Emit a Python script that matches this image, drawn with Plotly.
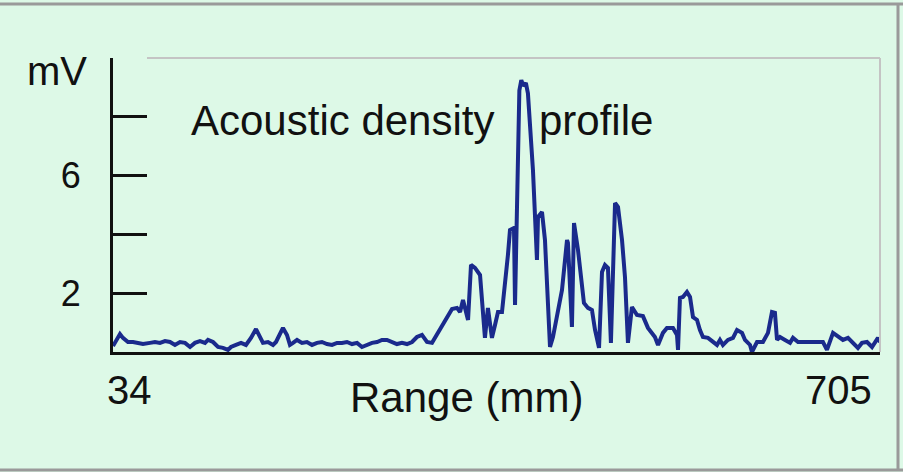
import plotly.graph_objects as go

# ---- data (Range in mm, signal in mV) ----
range_mm = [34, 40.1, 42.7, 47.1, 51.5, 55.9, 60.2, 66.4, 70.7, 75.1, 79.5, 83.9, 88.2, 92.6, 97.0,
            101.4, 105.7, 110.1, 114.5, 117.1, 121.5, 125.9, 130.2, 134.6, 137.2, 141.6, 146.0, 150.3,
            154.7, 159.1, 162.6, 165.2, 169.6, 174.0, 176.6, 180.1, 182.7, 186.2, 188.8, 191.5, 195.0,
            199.3, 203.7, 208.1, 212.5, 216.8, 221.2, 225.6, 230.0, 234.3, 238.7, 243.1, 247.5, 251.8,
            256.2, 260.6, 265.0, 269.3, 273.7, 278.1, 282.4, 286.8, 291.2, 295.6, 299.9, 304.3, 308.7,
            313.1, 317.4, 320.1, 321.8, 326.2, 330.6, 334.9, 337.6, 340.2, 342.8, 344.6, 347.2, 350.7,
            355.1, 357.7, 359.4, 362.0, 365.5, 368.2, 370.8, 374.3, 376.9, 379.5, 381.3, 384.8, 385.7,
            389.5, 391.2, 393.0, 395.2, 397.0, 401.4, 404.9, 405.8, 409.3, 411.9, 416.3, 418.9, 422.4,
            426.8, 431.2,
            432.0, 435.5, 437.3, 440.8, 444.3, 446.0, 449.5, 453.0, 455.7, 459.2, 461.8, 464.4, 467.0,
            469.6, 473.2, 475.8, 479.3, 481.9, 484.5, 488.0, 492.4, 497.6, 502.0, 505.5, 508.1, 510.8,
            515.1, 518.6, 523.9, 527.4, 528.3, 530.0, 532.6, 536.1, 538.8, 541.4, 544.9, 547.5, 550.1,
            554.5, 558.9, 562.4, 565.0, 567.6, 572.0, 576.4, 579.9, 584.3, 586.9, 591.3, 593.0, 597.4,
            602.6, 607.0, 610.5, 613.1, 614.9, 617.5, 621.9, 626.3, 628.9, 633.3, 655.1, 658.6, 663.9,
            668.2, 672.6, 677.0, 681.4, 685.7, 689.2, 693.6, 698.0, 700.6, 703.2, 705.0]
signal_mv = [0.20, 0.61, 0.48, 0.34, 0.34, 0.31, 0.27, 0.31, 0.34, 0.31, 0.37, 0.34, 0.24, 0.34, 0.31,
             0.17, 0.31, 0.37, 0.31, 0.41, 0.34, 0.17, 0.14, 0.07, 0.17, 0.24, 0.31, 0.24,
             0.48, 0.78, 0.51, 0.31, 0.34, 0.24, 0.34, 0.65, 0.82, 0.58, 0.24, 0.31, 0.41,
             0.31, 0.34, 0.24, 0.31, 0.34, 0.27, 0.24, 0.31, 0.31, 0.34, 0.27, 0.31, 0.17,
             0.24, 0.31, 0.34, 0.41, 0.41, 0.34, 0.27, 0.31, 0.27, 0.34, 0.51, 0.58, 0.34,
             0.31, 0.58, 0.75, 0.92, 1.16, 1.46, 1.50, 1.36, 1.77, 1.43, 1.09, 2.96, 2.86,
             2.62, 1.19, 0.48, 1.50, 0.48, 0.92, 1.36, 1.36, 2.28, 3.30, 4.15, 4.22, 1.60,
             8.90, 9.25, 9.05, 9.15, 8.80, 6.19, 3.13, 4.59, 4.76, 3.81, 0.17, 0.51, 1.19,
             2.11, 3.81,
             3.71, 0.85, 4.39, 3.47, 2.11, 1.67, 1.50, 1.43, 0.75, 0.14, 2.72, 2.96, 2.86,
             0.31, 5.07, 4.93, 3.81, 2.55, 0.31, 1.53, 1.26, 1.22, 0.82, 0.65, 0.51, 0.24,
             0.65, 0.82, 0.82, 0.58, 0.07, 1.84, 1.87, 2.04, 1.87, 1.19, 1.09, 0.75, 0.51,
             0.48, 0.34, 0.24, 0.41, 0.24, 0.41, 0.48, 0.75, 0.65, 0.41, 0.24, 0.00, 0.34,
             0.34, 0.65, 1.36, 1.33, 0.41, 0.51, 0.41, 0.31, 0.48, 0.34, 0.34, 0.07, 0.65,
             0.51, 0.41, 0.48, 0.31, 0.14, 0.31, 0.34, 0.17, 0.34, 0.48, 0.34]

y_tick_vals = [0, 2, 4, 6, 8, 10]
y_tick_text = ["", "2", "", "6", "", ""]
y_unit_label = "mV"
x_range = [34, 705]
x_end_labels = ["34", "705"]
x_title = "Range (mm)"
chart_title_parts = ["Acoustic density", "profile"]

# ---- layout geometry (pixels) ----
W, H = 903, 472
L, R, T, B = 113, 880, 58, 352
pw, ph = R - L, B - T


def px(x):
    return (x - L) / pw


def py(y):
    return (B - y) / ph


BG = "#ddf9e7"
FONT = "Liberation Sans, Arial, Helvetica, sans-serif"
LINE = "#1a2a8c"

fig = go.Figure()
fig.add_trace(go.Scatter(x=range_mm, y=signal_mv, mode="lines",
                         line=dict(color=LINE, width=4), hoverinfo="skip",
                         showlegend=False))

fig.update_layout(
    width=W, height=H,
    margin=dict(l=L, r=W - R, t=T, b=H - B, pad=0),
    paper_bgcolor=BG, plot_bgcolor=BG,
    font=dict(family=FONT, color="#111111"),
    xaxis=dict(range=x_range, showgrid=False, zeroline=False, showticklabels=False,
               ticks="", showline=True, linecolor="#111111", linewidth=3),
    yaxis=dict(range=[0, 10], showgrid=False, zeroline=False,
               tickvals=y_tick_vals, ticktext=y_tick_text,
               ticks="inside", ticklen=34, tickwidth=3, tickcolor="#111111",
               tickfont=dict(size=36, family=FONT, color="#111111"),
               ticklabelstandoff=22,
               showline=True, linecolor="#111111", linewidth=3),
)

shapes = [
    # plot-area top and right border (light grey)
    dict(type="line", xref="paper", yref="paper", x0=px(147), x1=1, y0=1, y1=1,
         line=dict(color="#c4c4c4", width=2)),
    dict(type="line", xref="paper", yref="paper", x0=1, x1=1, y0=0, y1=1,
         line=dict(color="#c4c4c4", width=2)),
    # outer frame
    dict(type="line", xref="paper", yref="paper", x0=px(0), x1=px(903), y0=py(4), y1=py(4),
         line=dict(color="#9a9a9a", width=3)),
    dict(type="line", xref="paper", yref="paper", x0=px(898), x1=px(898), y0=py(3), y1=py(471),
         line=dict(color="#9a9a9a", width=3)),
    dict(type="line", xref="paper", yref="paper", x0=px(0), x1=px(903), y0=py(470), y1=py(470),
         line=dict(color="#9a9a9a", width=3)),
]
fig.update_layout(shapes=shapes)

ann = []
ann.append(dict(text=y_unit_label, xref="paper", yref="paper", x=px(89), y=py(71),
                xanchor="right", yanchor="middle", showarrow=False,
                font=dict(size=40, family=FONT, color="#111111")))
ann.append(dict(text=chart_title_parts[0], xref="paper", yref="paper", x=px(189), y=py(120),
                xanchor="left", yanchor="middle", showarrow=False,
                font=dict(size=42, family=FONT, color="#111111")))
ann.append(dict(text=chart_title_parts[1], xref="paper", yref="paper", x=px(537), y=py(120),
                xanchor="left", yanchor="middle", showarrow=False,
                font=dict(size=42, family=FONT, color="#111111")))
ann.append(dict(text=x_title, xref="paper", yref="paper", x=px(466), y=py(397),
                xanchor="center", yanchor="middle", showarrow=False,
                font=dict(size=42, family=FONT, color="#111111")))
ann.append(dict(text=x_end_labels[0], xref="x", yref="paper", x=x_range[0], y=py(390),
                xanchor="left", yanchor="middle", showarrow=False, xshift=-8,
                font=dict(size=40, family=FONT, color="#111111")))
ann.append(dict(text=x_end_labels[1], xref="x", yref="paper", x=x_range[1], y=py(390),
                xanchor="right", yanchor="middle", showarrow=False, xshift=-6,
                font=dict(size=40, family=FONT, color="#111111")))
fig.update_layout(annotations=ann)

fig.write_html("out.html")
